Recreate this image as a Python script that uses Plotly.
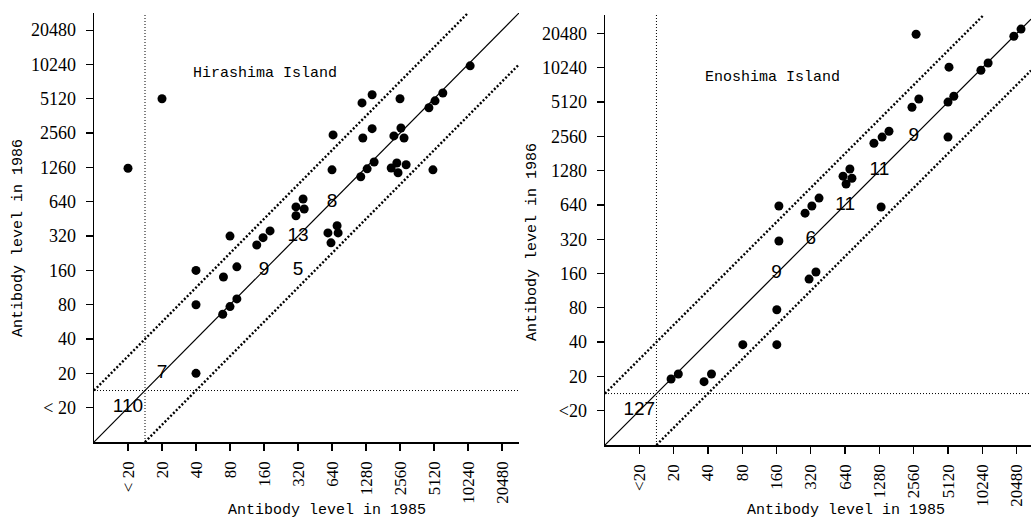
import numpy as np
import plotly.graph_objects as go

# ---------------- data ----------------
LEVEL_VALUES = [10, 20, 40, 80, 160, 320, 640, 1280, 2560, 5120, 10240, 20480]
X_TICKS_LEFT = ["< 20", "20", "40", "80", "160", "320", "640", "1280", "2560", "5120", "10240", "20480"]
Y_TICKS_LEFT = ["< 20", "20", "40", "80", "160", "320", "640", "1260", "2560", "5120", "10240", "20480"]
X_TICKS_RIGHT = ["<20", "20", "40", "80", "160", "320", "640", "1280", "2560", "5120", "10240", "20480"]
Y_TICKS_RIGHT = ["<20", "20", "40", "80", "160", "320", "640", "1280", "2560", "5120", "10240", "20480"]

# Hirashima Island: titer in 1985 (x) and 1986 (y); "<20" coded as 10
hira_1985 = [10, 20, 40, 40, 40, 80, 70, 92, 69, 80, 92, 138, 157, 181,
             10700, 6130, 5230, 4615, 1450, 1180, 2560, 654, 1450, 1200,
             2610, 2260, 2780, 640, 1510, 1310, 1150, 2140, 2400, 2900, 2460, 5010,
             355, 307, 363, 307, 589, 710, 725, 627]
hira_1986 = [1260, 5120, 160, 80, 20, 320, 140, 172, 66, 77, 90, 267, 310, 355,
             9960, 5760, 4910, 4270, 5560, 4710, 5120, 2470, 2800, 2320,
             2840, 2420, 2320, 1220, 1430, 1245, 1060, 1265, 1400, 1350, 1150, 1220,
             677, 577, 553, 482, 341, 394, 341, 279]
hira_count_1985 = [10, 20, 160, 320, 640, 320]
hira_count_1986 = [10, 20, 160, 320, 640, 160]
hira_count_text = ["110", "7", "9", "13", "8", "5"]

# Enoshima Island
eno_1985 = [19, 22, 37, 43, 81, 161, 161, 168, 168, 309, 355, 285, 327, 378,
            705, 614, 735, 653, 1325, 1146, 1352, 1554, 2473, 2840, 2687,
            5120, 5760, 5120, 5226, 9960, 11520, 19370, 22400]
eno_1986 = [19, 21, 18, 21, 38, 38, 77, 309, 627, 143, 165, 542, 627, 735,
            1325, 1146, 1099, 977, 614, 2229, 2525, 2840, 4615, 5450, 20200,
            5120, 5760, 2525, 10380, 9755, 11280, 19370, 22400]
eno_count_1985 = [10, 160, 320, 640, 1280, 2560]
eno_count_1986 = [10, 160, 320, 640, 1280, 2560]
eno_count_text = ["127", "9", "6", "11", "11", "9"]

DIAG_OFFSETS = [0.0, 1.5, -1.5]   # in twofold-dilution steps
CUTOFF = 1.5                      # between "<20" and "20"

# ---------------- helpers ----------------
def lvl(v):
    return np.log2(np.asarray(v, dtype=float) / 5.0)

W, H = 1031, 524
tick_pos = list(lvl(LEVEL_VALUES))

panels = [
    dict(name="Hirashima Island", xd=[94 / W, 519 / W], yd=[1 - 442 / H, 1 - 13 / H],
         xr=[0, 12.5], yr=[0, 12.5], xs=hira_1985, ys=hira_1986,
         cx=hira_count_1985, cy=hira_count_1986, ct=hira_count_text,
         xt=X_TICKS_LEFT, yt=Y_TICKS_LEFT, lab=(265, 74),
         xtitle=(327, 510), ytitle=(19, 238)),
    dict(name="Enoshima Island", xd=[605 / W, 1.0], yd=[1 - 445 / H, 1 - 15 / H],
         xr=[0, 12.42], yr=[0, 12.54], xs=eno_1985, ys=eno_1986,
         cx=eno_count_1985, cy=eno_count_1986, ct=eno_count_text,
         xt=X_TICKS_RIGHT, yt=Y_TICKS_RIGHT, lab=(772, 77),
         xtitle=(846, 510), ytitle=(532, 242)),
]

fig = go.Figure()
annotations = []
serif = "Liberation Serif, DejaVu Serif, serif"
mono = "Liberation Mono, DejaVu Sans Mono, monospace"

for i, p in enumerate(panels):
    sfx = "" if i == 0 else str(i + 1)
    xa, ya = "x" + sfx, "y" + sfx
    x0, x1 = p["xr"]
    y0, y1 = p["yr"]
    # diagonal reference lines
    for off in DIAG_OFFSETS:
        xs_line = np.array([max(x0, y0 - off), min(x1, y1 - off)])
        fig.add_trace(go.Scatter(
            x=xs_line, y=xs_line + off, mode="lines", xaxis=xa, yaxis=ya,
            line=dict(color="black", width=1.2 if off == 0 else 2.4,
                      dash="solid" if off == 0 else "2px,2px"),
            hoverinfo="skip", showlegend=False))
    # cutoff lines
    fig.add_trace(go.Scatter(x=[CUTOFF, CUTOFF], y=[y0, y1], mode="lines",
                             xaxis=xa, yaxis=ya, hoverinfo="skip", showlegend=False,
                             line=dict(color="black", width=1, dash="1px,2px")))
    fig.add_trace(go.Scatter(x=[x0, x1], y=[CUTOFF, CUTOFF], mode="lines",
                             xaxis=xa, yaxis=ya, hoverinfo="skip", showlegend=False,
                             line=dict(color="black", width=1, dash="1px,2px")))
    # points
    fig.add_trace(go.Scatter(x=lvl(p["xs"]), y=lvl(p["ys"]), mode="markers",
                             xaxis=xa, yaxis=ya, showlegend=False, cliponaxis=False,
                             marker=dict(color="black", size=9, line=dict(width=0))))
    # overlapping counts
    fig.add_trace(go.Scatter(x=lvl(p["cx"]), y=lvl(p["cy"]), mode="text",
                             text=p["ct"], textposition="middle center",
                             xaxis=xa, yaxis=ya, showlegend=False,
                             textfont=dict(family="Liberation Sans, Arial, sans-serif",
                                           size=19, color="black")))
    axis_common = dict(showline=True, linecolor="black", linewidth=1.5, mirror=False,
                       ticks="outside", ticklen=7, tickwidth=1.3, tickcolor="black",
                       showgrid=False, zeroline=False, tickvals=tick_pos, fixedrange=True)
    fig.layout["xaxis" + sfx] = dict(axis_common, domain=p["xd"], range=p["xr"], anchor=ya,
                                     ticktext=p["xt"], tickangle=-90, ticklabelstandoff=4,
                                     tickfont=dict(family=serif, size=17, color="black"))
    fig.layout["yaxis" + sfx] = dict(axis_common, domain=p["yd"], range=p["yr"], anchor=xa,
                                     ticktext=p["yt"], ticklabelstandoff=6,
                                     tickfont=dict(family=serif, size=18, color="black"))
    annotations.append(dict(text=p["name"], x=p["lab"][0] / W, y=1 - p["lab"][1] / H,
                            xref="paper", yref="paper", showarrow=False,
                            xanchor="center", yanchor="middle",
                            font=dict(family=mono, size=15, color="black")))
    annotations.append(dict(text="Antibody level in 1985", x=p["xtitle"][0] / W,
                            y=1 - p["xtitle"][1] / H, xref="paper", yref="paper",
                            showarrow=False, xanchor="center", yanchor="middle",
                            font=dict(family=mono, size=15, color="black")))
    annotations.append(dict(text="Antibody level in 1986", x=p["ytitle"][0] / W,
                            y=1 - p["ytitle"][1] / H, xref="paper", yref="paper",
                            showarrow=False, xanchor="center", yanchor="middle", textangle=-90,
                            font=dict(family=mono, size=15, color="black")))

fig.update_layout(width=W, height=H, margin=dict(l=0, r=0, t=0, b=0),
                  paper_bgcolor="white", plot_bgcolor="white",
                  annotations=annotations, showlegend=False)

fig.write_html("out.html", config={"displayModeBar": False, "staticPlot": True},
               post_script="document.body.style.margin='0px';document.body.style.overflow='hidden';")
